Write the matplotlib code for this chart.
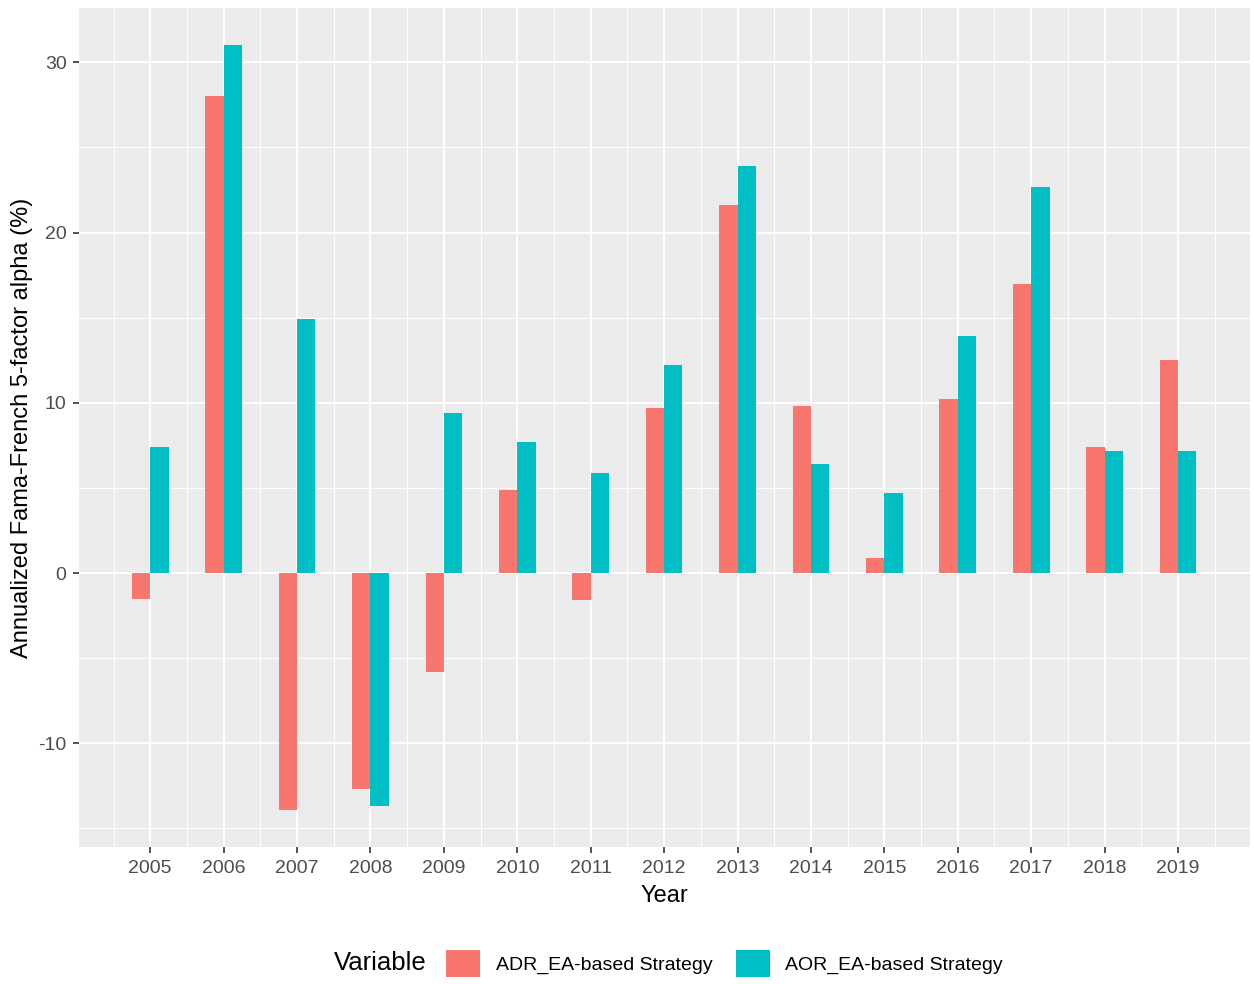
import matplotlib
matplotlib.use("Agg")
import matplotlib.pyplot as plt
from matplotlib.patches import Patch
from matplotlib.ticker import MultipleLocator
from matplotlib.offsetbox import HPacker
import numpy as np

years = [2005, 2006, 2007, 2008, 2009, 2010, 2011, 2012, 2013, 2014, 2015, 2016, 2017, 2018, 2019]
adr = [-1.5, 28.0, -13.9, -12.7, -5.8, 4.9, -1.6, 9.7, 21.6, 9.8, 0.9, 10.2, 17.0, 7.4, 12.5]
aor = [7.4, 31.0, 14.9, -13.7, 9.4, 7.7, 5.9, 12.2, 23.9, 6.4, 4.7, 13.9, 22.7, 7.2, 7.2]
series_names = ["ADR_EA-based Strategy", "AOR_EA-based Strategy"]
colors = ["#F8766D", "#00BFC4"]

plt.rcParams['font.family'] = ['Liberation Sans', 'DejaVu Sans']
plt.rcParams['axes.unicode_minus'] = False

fig = plt.figure(figsize=(12.54, 9.84), dpi=100)
ax = fig.add_axes([0.063, 0.139, 0.9338, 0.853])
ax.set_facecolor("#EBEBEB")

x = np.array(years, dtype=float)
w = 0.25
ax.bar(x - w / 2, adr, width=w, color=colors[0], zorder=3)
ax.bar(x + w / 2, aor, width=w, color=colors[1], zorder=3)

ax.set_xlim(2004.03, 2019.98)
ax.set_ylim(-16.1, 33.2)
ax.set_xticks(years)
ax.set_xticklabels([str(y) for y in years])
ax.xaxis.set_minor_locator(MultipleLocator(0.5))
ax.yaxis.set_major_locator(MultipleLocator(10))
ax.yaxis.set_minor_locator(MultipleLocator(5))
ax.grid(which="major", color="white", linewidth=1.4, zorder=0)
ax.grid(which="minor", color="white", linewidth=0.7, zorder=0)
ax.set_axisbelow(True)
for s in ax.spines.values():
    s.set_visible(False)
ax.tick_params(which="major", length=4, width=1.2, color="#333333",
               labelsize=14, labelcolor="#4D4D4D", pad=5)
ax.tick_params(which="minor", length=0)

ax.set_xlabel("Year", fontsize=17, color="black", labelpad=6)
ax.set_ylabel("Annualized Fama-French 5-factor alpha (%)", fontsize=17, color="black", labelpad=4)

handles = [Patch(facecolor=c, edgecolor='none') for c in colors]
leg = fig.legend(handles, series_names, loc="center", bbox_to_anchor=(0.533, 0.021),
                 ncol=2, frameon=False, fontsize=14, handlelength=1.75, handleheight=1.8,
                 handletextpad=0.8, columnspacing=1.2, title="Variable",
                 title_fontsize=18.5)
title_box = leg._legend_title_box
entries = leg._legend_handle_box
leg._legend_box._children = [HPacker(children=[title_box, entries], pad=0, sep=14, align="center")]

fig.savefig("out.png", dpi=100)
